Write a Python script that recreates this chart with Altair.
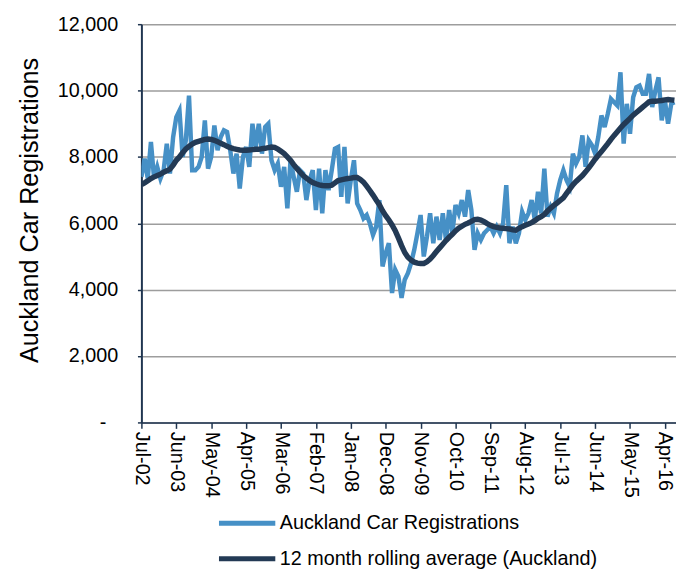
import altair as alt
import pandas as pd

tick_labels = ["Jul-02", "Jun-03", "May-04", "Apr-05", "Mar-06", "Feb-07", "Jan-08",
               "Dec-08", "Nov-09", "Oct-10", "Sep-11", "Aug-12", "Jul-13", "Jun-14",
               "May-15", "Apr-16"]

series_names = ["Auckland Car Registrations", "12 month rolling average (Auckland)"]

# monthly values, Jul-02 onwards
registrations = [
    7400, 7950, 7350, 8450, 7350, 7700, 7350, 7600, 8400, 7500,
    8600, 9200, 9400, 8000, 8500, 9850, 7600, 7600, 7700, 8000,
    9100, 7650, 8000, 8950, 8200, 8600, 8800, 8750, 8200, 7500,
    8100, 7050, 8000, 8300, 7700, 9000, 8300, 9000, 8100, 8900,
    9000, 7900, 7600, 7800, 7100, 7700, 6450, 7900, 7400, 6950,
    7600, 7500, 6700, 7300, 7600, 6400, 7650, 6300, 7600, 7000,
    7600, 8250, 8300, 6800, 8300, 6600, 7300, 7900, 6600, 6400,
    6150, 6250, 6000, 5650, 5900, 6700, 4700, 5100, 5400, 3900,
    4600, 4400, 3750, 4300, 4500, 4800, 5200, 5700, 6250, 5000,
    5600, 6300, 5400, 6200, 5500, 6300, 5500, 6400, 5700, 6550,
    6300, 6700, 6200, 7000, 6400, 5200, 5700, 5500, 5700, 5800,
    5900, 5700, 5900, 5700, 6000, 7150, 5400, 5900, 5400, 5700,
    6350, 6100, 6300, 6700, 6100, 6950, 6300, 7650, 6200, 6500,
    6300, 6900, 7300, 7600, 7300, 7100, 8100, 7800, 8000, 8650,
    7700, 8500, 8350, 8100, 8600, 9250, 8900, 9300, 9750, 9650,
    9550, 10550, 8400, 9600, 8700, 9800, 10100, 10150, 9900, 9900,
    10500, 9500, 10000, 10400, 9100, 9700, 9000, 9600, 9650,
]

rolling_avg = [
    7170, 7220, 7280, 7350, 7400, 7440, 7480, 7540, 7580, 7630,
    7750, 7900, 8000, 8130, 8240, 8320, 8390, 8440, 8470, 8500,
    8530, 8540, 8530, 8500, 8460, 8410, 8370, 8320, 8280, 8250,
    8230, 8210, 8200, 8200, 8210, 8220, 8230, 8230, 8250, 8260,
    8280, 8300, 8290, 8240, 8170, 8100, 8000, 7900, 7770, 7650,
    7540, 7440, 7360, 7290, 7230, 7190, 7160, 7140, 7130, 7130,
    7150, 7220, 7290, 7310, 7330, 7350, 7360, 7380, 7380, 7320,
    7240, 7120, 6990, 6850, 6700, 6560, 6380, 6230, 6100, 5950,
    5780, 5560, 5330, 5120, 4980, 4890, 4830, 4800, 4790, 4790,
    4840, 4920, 5030, 5150, 5260, 5370, 5480, 5580, 5670, 5770,
    5850, 5910, 5970, 6010, 6060, 6110, 6120, 6100, 6050, 5990,
    5940, 5900, 5880, 5860, 5850, 5840, 5830, 5800, 5790, 5850,
    5900, 5940, 5980, 6020, 6080, 6150, 6200, 6270, 6370, 6460,
    6540, 6610, 6690, 6770, 6900, 7030, 7160, 7260, 7350, 7440,
    7550, 7670, 7800, 7930, 8050, 8160, 8280, 8400, 8530, 8650,
    8760, 8870, 8980, 9070, 9160, 9260, 9340, 9420, 9500, 9580,
    9660, 9680, 9680, 9690, 9700, 9720, 9730, 9720, 9710,
]

y_ticks = [0, 2000, 4000, 6000, 8000, 10000, 12000]

n = len(registrations)
df = pd.DataFrame({
    "month": list(range(n)) + list(range(len(rolling_avg))),
    "value": registrations + rolling_avg,
    "series": [series_names[0]] * n + [series_names[1]] * len(rolling_avg),
})

label_arr = "[" + ",".join("'" + t + "'" for t in tick_labels) + "]"
x_label_expr = label_arr + "[round(datum.value / 11)]"
y_label_expr = "datum.value == 0 ? '-' : format(datum.value, ',')"

FONT = "Liberation Sans"
AXIS_COLOR = "#1F3550"
LABEL_SIZE = 20

color = alt.Color(
    "series:N",
    scale=alt.Scale(domain=series_names, range=["#4690C6", "#233A55"]),
    legend=alt.Legend(
        title=None, orient="none", legendX=95, legendY=493,
        symbolType="M-3,0H3", symbolSize=361, symbolStrokeWidth=5,
        labelFontSize=LABEL_SIZE, labelFont=FONT, labelColor="#000000",
        rowPadding=14, labelLimit=600, labelOffset=21, padding=0,
        direction="vertical",
    ),
)

x = alt.X(
    "month:Q",
    scale=alt.Scale(domain=[0, 168.5], nice=False, zero=False),
    axis=alt.Axis(
        values=list(range(0, 11 * len(tick_labels), 11)), labelExpr=x_label_expr,
        labelAngle=90, grid=False, tickSize=6, tickColor=AXIS_COLOR, tickWidth=1.5,
        domainColor=AXIS_COLOR, domainWidth=1.5, title=None,
        labelFontSize=LABEL_SIZE, labelFont=FONT, labelColor="#000000", labelPadding=3,
    ),
)

y = alt.Y(
    "value:Q",
    scale=alt.Scale(domain=[0, 12000], nice=False),
    axis=alt.Axis(
        values=y_ticks, labelExpr=y_label_expr,
        title="Auckland Car Registrations", titleFontSize=25.5, titleFont=FONT,
        titleFontWeight="normal", titleColor="#000000", titlePadding=15, titleY=188,
        gridColor="#9D9D9D", gridWidth=1.5, tickSize=4, tickColor=AXIS_COLOR,
        tickWidth=1.5, domainColor=AXIS_COLOR, domainWidth=2,
        labelPadding={"condition": {"test": "datum.value == 0", "value": 32}, "value": 20},
        labelFontSize=LABEL_SIZE, labelFont=FONT, labelColor="#000000",
    ),
)

base = alt.Chart(df).encode(x=x, y=y, color=color)

line_reg = base.transform_filter(
    alt.datum.series == series_names[0]
).mark_line(strokeWidth=4.5, clip=True)

line_avg = base.transform_filter(
    alt.datum.series == series_names[1]
).mark_line(strokeWidth=5.5, clip=True)

chart = alt.layer(line_reg, line_avg).properties(
    width=541, height=403,
    autosize=alt.AutoSizeParams(type="none"),
    padding={"left": 135, "top": 13, "right": 0, "bottom": 150},
).configure_view(stroke=None)

chart.save("out.html", embed_options={"renderer": "svg", "actions": False})
